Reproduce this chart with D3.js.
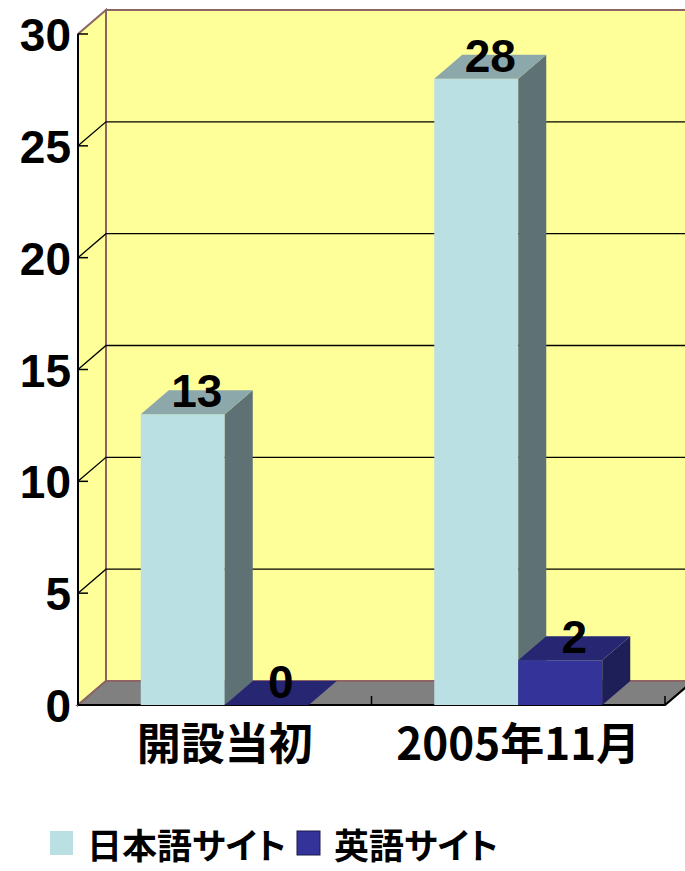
<!DOCTYPE html>
<html>
<head>
<meta charset="utf-8">
<script src="https://cdn.jsdelivr.net/npm/d3@7"></script>
<style>
  html, body { margin: 0; padding: 0; background: #ffffff; }
  svg { display: block; }
</style>
</head>
<body>
<svg id="chart" width="685" height="871"></svg>
<script>
// ---- data ----
const categories = ["開設当初", "2005年11月"];
const seriesNames = ["日本語サイト", "英語サイト"];
const japaneseValues = [13, 28];
const englishValues = [0, 2];
const yTickValues = [0, 5, 10, 15, 20, 25, 30];

// ---- layout ----
const svg = d3.select("#chart");
const plotLeft = 78, plotRight = 665, plotBottom = 705, plotTop = 34;
const dx = 28, dy = 24;           // 3D depth offset
const barW = 84;

const y = d3.scaleLinear().domain([0, 30]).range([plotBottom, plotTop]);
const x0 = d3.scaleBand().domain(categories).range([plotLeft, plotRight]).padding(0);
const x1 = d3.scaleBand().domain(seriesNames).range([0, barW * seriesNames.length]).padding(0);
const groupOffset = (x0.bandwidth() - x1.range()[1]) / 2;

const colors = {
  "日本語サイト": { front: "#BBE0E3", top: "#8CA8AA", side: "#5E7174" },
  "英語サイト": { front: "#333399", top: "#262673", side: "#1E1E58" }
};
const wallBorder = "#8C6464";

// back wall
svg.append("rect")
  .attr("x", plotLeft + dx).attr("y", plotTop - dy)
  .attr("width", 700).attr("height", plotBottom - plotTop)
  .attr("fill", "#FFFF99").attr("stroke", wallBorder).attr("stroke-width", 2);

// left wall
svg.append("path")
  .attr("d", `M${plotLeft},${plotTop} L${plotLeft + dx},${plotTop - dy} L${plotLeft + dx},${plotBottom - dy} L${plotLeft},${plotBottom} Z`)
  .attr("fill", "#FFFF99").attr("stroke", wallBorder).attr("stroke-width", 2);

// floor
svg.append("path")
  .attr("d", `M${plotLeft},${plotBottom} L${plotRight},${plotBottom} L${plotRight + dx},${plotBottom - dy} L${plotLeft + dx},${plotBottom - dy} Z`)
  .attr("fill", "#808080").attr("stroke", wallBorder).attr("stroke-width", 2);

// gridlines (left wall diagonal + back wall horizontal)
const grid = yTickValues.filter(v => v > 0 && v < 30);
svg.append("g").selectAll("path").data(grid).join("path")
  .attr("d", v => `M${plotLeft},${y(v)} L${plotLeft + dx},${y(v) - dy} L${plotLeft + dx + 700},${y(v) - dy}`)
  .attr("fill", "none").attr("stroke", "#000").attr("stroke-width", 1.3);

// front edges of floor
svg.append("path")
  .attr("d", `M${plotLeft},${plotBottom} L${plotRight},${plotBottom} L${plotRight + dx},${plotBottom - dy}`)
  .attr("fill", "none").attr("stroke", "#000").attr("stroke-width", 2);

// category ticks
const catTicks = [plotLeft, plotLeft + x0.bandwidth(), plotRight];
svg.append("g").selectAll("line").data(catTicks).join("line")
  .attr("x1", d => d).attr("x2", d => d)
  .attr("y1", plotBottom).attr("y2", plotBottom - 9)
  .attr("stroke", "#000").attr("stroke-width", 1.5);

// value axis line
svg.append("line")
  .attr("x1", plotLeft).attr("x2", plotLeft).attr("y1", plotTop).attr("y2", plotBottom)
  .attr("stroke", "#000").attr("stroke-width", 2);

// value ticks
svg.append("g").selectAll("line").data(yTickValues).join("line")
  .attr("x1", plotLeft).attr("x2", plotLeft + 10)
  .attr("y1", d => y(d)).attr("y2", d => y(d))
  .attr("stroke", "#000").attr("stroke-width", 1.5);

// value labels
svg.append("g").selectAll("text").data(yTickValues).join("text")
  .attr("x", 71).attr("y", d => y(d) + 17)
  .attr("text-anchor", "end")
  .attr("font-family", "'Liberation Sans', Arial, sans-serif")
  .attr("font-weight", "bold").attr("font-size", 46)
  .attr("fill", "#000")
  .text(d => d);

// bars
const barData = [];
categories.forEach((c, i) => {
  barData.push({ cat: c, series: seriesNames[0], value: japaneseValues[i] });
  barData.push({ cat: c, series: seriesNames[1], value: englishValues[i] });
});

const bars = svg.append("g");
barData.forEach(d => {
  const xa = x0(d.cat) + groupOffset + x1(d.series);
  const xb = xa + x1.bandwidth();
  const yt = y(d.value);
  const c = colors[d.series];
  const g = bars.append("g");
  if (d.value > 0) {
    g.append("rect")
      .attr("x", xa).attr("y", yt).attr("width", xb - xa).attr("height", plotBottom - yt)
      .attr("fill", c.front);
    g.append("path")
      .attr("d", `M${xb},${yt} L${xb + dx},${yt - dy} L${xb + dx},${plotBottom - dy} L${xb},${plotBottom} Z`)
      .attr("fill", c.side);
  }
  g.append("path")
    .attr("d", `M${xa},${yt} L${xb},${yt} L${xb + dx},${yt - dy} L${xa + dx},${yt - dy} Z`)
    .attr("fill", c.top);
  g.append("text")
    .attr("x", (xa + xb) / 2 + dx / 2)
    .attr("y", yt - dy / 2 + 5)
    .attr("text-anchor", "middle")
    .attr("font-family", "'Liberation Sans', Arial, sans-serif")
    .attr("font-weight", "bold").attr("font-size", 46)
    .attr("fill", "#000")
    .text(d.value);
});

// category labels
svg.append("g").selectAll("text").data(categories).join("text")
  .attr("x", d => x0(d) + x0.bandwidth() / 2)
  .attr("y", 760)
  .attr("text-anchor", "middle")
  .attr("font-family", "'Noto Sans CJK JP', sans-serif")
  .attr("font-weight", "bold")
  .attr("font-size", 44)
  .attr("fill", "#000")
  .text(d => d);

// legend
const legendX = [50, 297];
const legend = svg.append("g");
seriesNames.forEach((s, i) => {
  legend.append("rect")
    .attr("x", legendX[i]).attr("y", 831).attr("width", 23).attr("height", 24)
    .attr("fill", colors[s].front)
    .attr("stroke", i === 1 ? "#1a1a4d" : "none").attr("stroke-width", 1);
  legend.append("text")
    .attr("x", legendX[i] + 37).attr("y", 859)
    .attr("font-family", "'Noto Sans CJK JP', sans-serif")
    .attr("font-weight", "bold")
    .attr("font-size", 35)
    .style("font-feature-settings", "'palt' 1")
    .attr("fill", "#000")
    .text(s);
});
</script>
</body>
</html>
